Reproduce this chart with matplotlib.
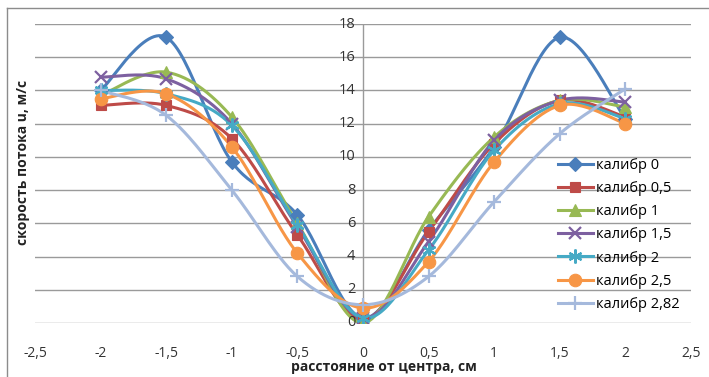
import numpy as np
import matplotlib.pyplot as plt
from matplotlib.lines import Line2D

plt.rcParams['font.family'] = ['Open Sans', 'DejaVu Sans']

x = [-2, -1.5, -1, -0.5, 0, 0.5, 1, 1.5, 2]

kal_0 = [14.0, 17.2, 9.7, 6.5, 0.3, 5.6, 10.6, 17.2, 12.3]
kal_05 = [13.1, 13.1, 11.1, 5.3, 0.2, 5.5, 10.8, 13.4, 12.4]
kal_1 = [13.7, 15.1, 12.4, 6.0, 0.0, 6.4, 11.2, 13.4, 13.0]
kal_15 = [14.8, 14.7, 12.0, 5.8, 0.3, 4.9, 11.0, 13.4, 13.3]
kal_2 = [14.0, 13.8, 11.9, 5.9, 0.3, 4.4, 10.4, 13.2, 12.3]
kal_25 = [13.5, 13.8, 10.6, 4.2, 0.9, 3.7, 9.7, 13.1, 12.0]
kal_282 = [14.0, 12.5, 8.0, 2.8, 1.1, 2.8, 7.3, 11.4, 14.1]

labels = ['калибр 0', 'калибр 0,5', 'калибр 1', 'калибр 1,5',
          'калибр 2', 'калибр 2,5', 'калибр 2,82']
series = [kal_0, kal_05, kal_1, kal_15, kal_2, kal_25, kal_282]
colors = ['#4a7ebb', '#be4b48', '#98b954', '#7d60a0', '#46aac5', '#f79646', '#a5b9dc']
markers = ['D', 's', '^', 'x', (6, 2, 0), 'o', '+']
msizes = [7, 7, 8, 9, 10, 9, 10]
thin = [False, False, False, True, True, False, True]


def smooth(xs, ys, n=30):
    # excel-like smoothed line: bezier with catmull-rom control points
    xs = np.asarray(xs, float)
    ys = np.asarray(ys, float)
    P = np.column_stack([xs, ys])
    P = np.vstack([P[0], P, P[-1]])
    out = []
    t = np.linspace(0, 1, n)[:, None]
    for i in range(1, len(P) - 2):
        p0, p1, p2, p3 = P[i - 1], P[i], P[i + 1], P[i + 2]
        c1 = p1 + (p2 - p0) / 6
        c2 = p2 - (p3 - p1) / 6
        seg = ((1 - t) ** 3) * p1 + 3 * ((1 - t) ** 2) * t * c1 + 3 * (1 - t) * t ** 2 * c2 + t ** 3 * p2
        out.append(seg)
    out = np.vstack(out)
    return out[:, 0], out[:, 1]


W, H = 709, 377
fig = plt.figure(figsize=(W / 100, H / 100), dpi=100)
ax = fig.add_axes([35 / W, 1 - 323 / H, (691 - 35) / W, (323 - 24) / H])

for ys, lab, c, m, ms, th in zip(series, labels, colors, markers, msizes, thin):
    sx, sy = smooth(x, ys)
    ax.plot(sx, sy, color=c, lw=2.2, solid_capstyle='round', zorder=3)
    ax.plot(x, ys, ls='none', marker=m, ms=ms, color=c, mec=c, mew=1.6 if th else 0.8, zorder=4)

ax.set_xlim(-2.5, 2.5)
ax.set_ylim(0, 18)
ax.set_yticks(np.arange(0, 19, 2))
ax.set_xticks(np.arange(-2.5, 2.51, 0.5))
ax.yaxis.grid(True, color='#9a9a9a', lw=1)
ax.set_axisbelow(True)
for s in ax.spines.values():
    s.set_visible(False)
ax.axvline(0, color='#9a9a9a', lw=1, zorder=1)
ax.tick_params(left=False, bottom=False, labelleft=False)
ax.set_xticklabels([f'{v:g}'.replace('.', ',') for v in np.arange(-2.5, 2.51, 0.5)],
                   fontsize=10, color='#333333')
ax.tick_params(axis='x', pad=13)

# y tick labels sit next to the axis at x=0
for v in range(0, 19, 2):
    ax.text(-0.06, v, str(v), ha='right', va='center', fontsize=10.5, color='#333333')

fig.text(23 / W, 1 - 162 / H, 'скорость потока u, м/с', rotation=90, ha='center', va='center',
         fontsize=10, fontweight='bold', color='#222222')
fig.text(384 / W, 1 - 367 / H, 'расстояние от центра, см', ha='center', va='center',
         fontsize=10, fontweight='bold', color='#222222')

# chart border
fig.add_artist(Line2D([7 / W, 7 / W], [0, 1 - 8 / H], color='#8c8c8c', lw=1))
fig.add_artist(Line2D([7 / W, 1], [1 - 8 / H, 1 - 8 / H], color='#8c8c8c', lw=1))

handles = []
for lab, c, m, ms, th in zip(labels, colors, markers, msizes, thin):
    handles.append(Line2D([], [], color=c, lw=2.2, marker=m, ms=ms, mec=c,
                          mew=1.6 if th else 0.8, label=lab))
fig.legend(handles=handles, loc='upper left', bbox_to_anchor=(552 / W, 1 - 152 / H),
           frameon=False, fontsize=10.5, handlelength=2.4, handletextpad=0.2,
           labelspacing=0.56, borderaxespad=0)

fig.savefig('out.png', dpi=100)
